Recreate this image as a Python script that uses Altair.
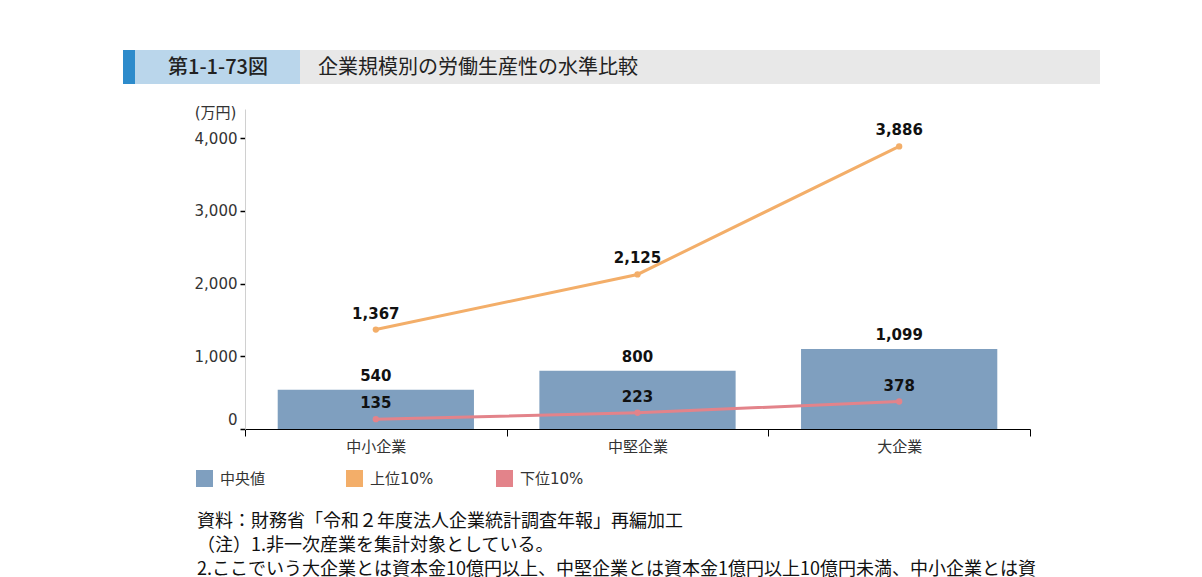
import altair as alt
import pandas as pd

# 企業規模別の労働生産性（万円）
categories = ["中小企業", "中堅企業", "大企業"]
median = [540, 800, 1099]
top10 = [1367, 2125, 3886]
bottom10 = [135, 223, 378]

series_names = ["中央値", "上位10%", "下位10%"]
series_colors = ["#7F9FBF", "#F3AE69", "#E3838A"]

y_ticks = [0, 1000, 2000, 3000, 4000]

notes = [
    "資料：財務省「令和２年度法人企業統計調査年報」再編加工",
    "（注）1.非一次産業を集計対象としている。",
    "2.ここでいう大企業とは資本金10億円以上、中堅企業とは資本金1億円以上10億円未満、中小企業とは資",
]

FONT = "DejaVu Sans"
MIX = "DejaVu Sans, Noto Sans CJK JP"
JP = "Noto Sans CJK JP"

bar_df = pd.DataFrame({"cat": categories, "value": median, "series": series_names[0]})
line_df = pd.concat([
    pd.DataFrame({"cat": categories, "value": top10, "series": series_names[1]}),
    pd.DataFrame({"cat": categories, "value": bottom10, "series": series_names[2]}),
])

x_enc = alt.X(
    "cat:N", sort=categories, title=None,
    scale=alt.Scale(paddingInner=0, paddingOuter=0),
    axis=alt.Axis(
        labelAngle=0, labelFont=JP, labelFontSize=15, labelColor="#333333",
        tickBand="extent", tickSize=7, tickColor="#000000", domainColor="#000000",
        domainWidth=1.2, labelPadding=3,
    ),
)
y_enc = alt.Y(
    "value:Q", title="(万円)",
    scale=alt.Scale(domain=[0, 4400], nice=False),
    axis=alt.Axis(
        values=y_ticks, format=",d", grid=False,
        labelFont=FONT, labelFontSize=15, labelColor="#333333", labelPadding=3,
        labelOffset={"condition": {"test": "datum.value == 0", "value": -10}, "value": 0},
        tickSize=5, tickColor="#000000", tickWidth=1.5, domainColor="#D0D0D0",
        titleAngle=0, titleX=-30, titleY=3, titleAlign="center", titleBaseline="middle",
        titleFont=MIX, titleFontSize=15, titleFontWeight="normal", titleColor="#333333",
    ),
)
color_enc = alt.Color(
    "series:N",
    scale=alt.Scale(domain=series_names, range=series_colors),
    legend=alt.Legend(
        title=None, orient="none", legendX=-49, legendY=361, direction="horizontal",
        symbolType="square", symbolSize=289, symbolStrokeWidth=0, symbolOpacity=1,
        labelFont=MIX, labelFontSize=15, labelColor="#333333", labelOffset=7,
        gridAlign="all", columnPadding=62,
    ),
)

bars = alt.Chart(bar_df).mark_bar(width=alt.RelativeBandSize(0.75)).encode(
    x=x_enc, y=y_enc, color=color_enc
)
bar_labels = alt.Chart(bar_df).mark_text(
    dy=-14, font=FONT, fontSize=15, fontWeight="bold", color="#111111"
).encode(x=alt.X("cat:N", sort=categories), y="value:Q", text=alt.Text("value:Q", format=",d"))

lines = alt.Chart(line_df).mark_line(
    strokeWidth=3, point=alt.OverlayMarkDef(size=40, filled=True)
).encode(x=alt.X("cat:N", sort=categories), y="value:Q", color="series:N")
line_labels = alt.Chart(line_df).mark_text(
    dy=-16, font=FONT, fontSize=15, fontWeight="bold", color="#111111"
).encode(x=alt.X("cat:N", sort=categories), y="value:Q", text=alt.Text("value:Q", format=",d"))

# 図表タイトルの帯
one = alt.Data(values=[{}])
band_accent = alt.Chart(one).mark_rect(color="#2D8BCB").encode(
    x=alt.value(-122), x2=alt.value(-110), y=alt.value(-59), y2=alt.value(-25))
band_light = alt.Chart(one).mark_rect(color="#BAD6EB").encode(
    x=alt.value(-110), x2=alt.value(55), y=alt.value(-59), y2=alt.value(-25))
band_gray = alt.Chart(one).mark_rect(color="#E8E8E8").encode(
    x=alt.value(55), x2=alt.value(855), y=alt.value(-59), y2=alt.value(-25))
fig_no = alt.Chart(one).mark_text(
    text="第1-1-73図", font=JP, fontSize=20, fontWeight=500, color="#222222", align="center"
).encode(x=alt.value(-27), y=alt.value(-41))
fig_title = alt.Chart(one).mark_text(
    text="企業規模別の労働生産性の水準比較", font=JP, fontSize=20, color="#222222", align="left"
).encode(x=alt.value(73), y=alt.value(-41))

note_layers = [
    alt.Chart(one).mark_text(
        text=t, font=JP, fontSize=18, color="#111111", align="left", baseline="middle"
    ).encode(x=alt.value(-48), y=alt.value(413 + 24 * i))
    for i, t in enumerate(notes)
]

chart = alt.layer(
    band_accent, band_light, band_gray, fig_no, fig_title,
    bars, lines, bar_labels, line_labels, *note_layers
).properties(
    width=785, height=320,
    padding={"left": 237, "top": 101, "right": 164, "bottom": 148},
    autosize=alt.AutoSizeParams(type="none"),
).configure_view(stroke=None)

chart.save("out.html", embed_options={"renderer": "svg", "actions": False})
